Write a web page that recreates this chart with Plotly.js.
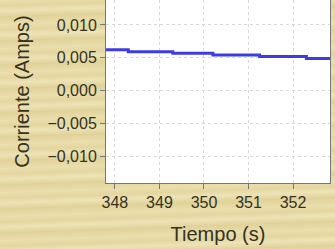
<!DOCTYPE html>
<html><head><meta charset="utf-8">
<script src="https://cdn.plot.ly/plotly-3.0.1.min.js"></script>
<style>
html,body{margin:0;padding:0;width:335px;height:249px;overflow:hidden;
background: repeating-linear-gradient(178deg,#eadfae 0px,#e4d6a0 6px,#ede3b6 11px,#e1d29a 17px,#e9ddab 24px);}
#c{width:335px;height:249px;}
</style></head><body>
<div id="c"></div>
<script>
var tiempo = [347.8, 348.3, 349.3, 350.2, 351.25, 352.3, 352.83];
var corriente = [0.0062, 0.0059, 0.0057, 0.0054, 0.0052, 0.0049, 0.0049];
var xTicks = [348, 349, 350, 351, 352];
var yTicks = [-0.010, -0.005, 0.000, 0.005, 0.010];

var trace = {x: tiempo, y: corriente, mode: 'lines', line: {shape: 'hv', color: '#3c3ce6', width: 3}, hoverinfo: 'skip'};
var layout = {
  width: 335, height: 249,
  margin: {l: 106, r: 5, t: 0, b: 66},
  paper_bgcolor: 'rgba(0,0,0,0)', plot_bgcolor: '#ffffff',
  separators: ',.',
  showlegend: false,
  font: {family: 'Liberation Sans, Arial, sans-serif', color: '#33331f', size: 16},
  xaxis: {range: [347.8, 352.83], tickvals: xTicks, ticks: 'outside', ticklen: 5, tickcolor: '#777',
    showgrid: true, gridcolor: '#d8d8d8', griddash: '3px,3px', gridwidth: 1, zeroline: false,
    showline: true, linecolor: '#777', mirror: true,
    title: {text: 'Tiempo (s)', font: {size: 20}, standoff: 16}},
  yaxis: {range: [-0.0141, 0.0138], tickvals: yTicks, tickformat: '.3f', ticks: 'outside', ticklen: 5, tickcolor: '#777',
    showgrid: true, gridcolor: '#d8d8d8', griddash: '3px,3px', gridwidth: 1, zeroline: false,
    showline: true, linecolor: '#777', mirror: true,
    title: {text: 'Corriente (Amps)', font: {size: 20}, standoff: 12}}
};
Plotly.newPlot('c', [trace], layout, {displayModeBar: false, staticPlot: true});
</script>
</body></html>
